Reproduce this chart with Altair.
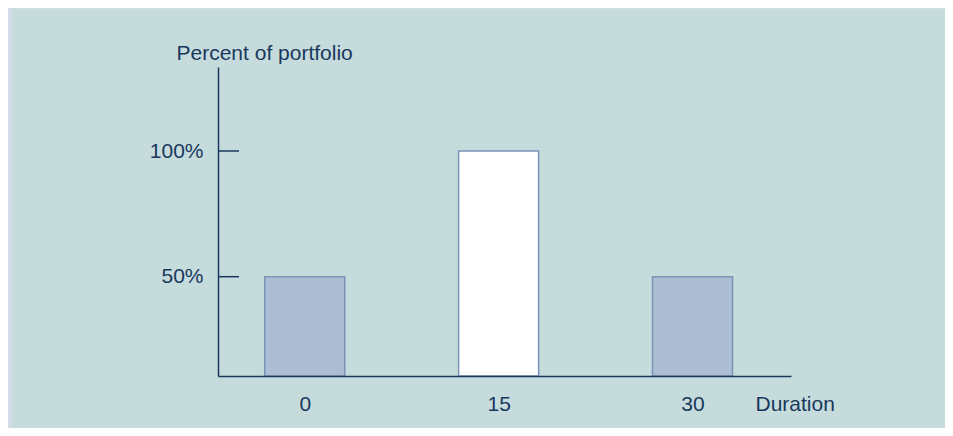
import altair as alt
import pandas as pd

# Data
durations = [0, 15, 30]
percents = [50, 100, 50]
fills = ["#adbdd3", "#ffffff", "#adbdd3"]
y_ticks = [50, 100]
x_ticks = [0, 15, 30]

NAVY = "#19385c"
FONT = "Liberation Sans"
FS = 21

bars_df = pd.DataFrame({"duration": durations, "percent": percents, "fill": fills})
ticks_df = pd.DataFrame({"percent": y_ticks})

W, H = 573, 309

x_scale = alt.Scale(domain=[-6.71, 37.62], nice=False, zero=False, padding=0)
y_scale = alt.Scale(domain=[0, 50, 100, 133.4], range=[309, 209.7, 84, 0], nice=False, zero=False)

panel = alt.Chart(pd.DataFrame({"a": [0]})).mark_rect(color="#c5dbdc").encode(
    x=alt.value(-206), x2=alt.value(W + 160), y=alt.value(-58), y2=alt.value(H + 60)
)

bars = alt.Chart(bars_df).mark_bar(size=80, stroke="#7b94b6", strokeWidth=1.5).encode(
    x=alt.X("duration:Q", scale=x_scale,
            axis=alt.Axis(values=x_ticks, title="Duration", grid=False, ticks=False, tickSize=0,
                          labelPadding=34, labelBaseline="alphabetic", labelFontSize=FS,
                          labelColor=NAVY, labelFont=FONT, domainColor=NAVY, domainWidth=1.5,
                          titleFontSize=FS, titleFontWeight="normal", titleColor=NAVY, titleFont=FONT,
                          titleX=537, titleY=34, titleAlign="left", titleBaseline="alphabetic",
                          titleAnchor="start", zindex=2)),
    y=alt.Y("percent:Q", scale=y_scale,
            axis=alt.Axis(values=y_ticks, labelExpr="datum.value + '%'",
                          title="Percent of portfolio", grid=False, ticks=False, tickSize=0,
                          labelPadding=15, labelFontSize=FS, labelColor=NAVY, labelFont=FONT,
                          labelAlign="right", labelBaseline="middle",
                          domainColor=NAVY, domainWidth=1.5,
                          titleFontSize=FS, titleFontWeight="normal", titleColor=NAVY, titleFont=FONT,
                          titleAngle=0, titleX=-42, titleY=-8, titleAlign="left",
                          titleBaseline="alphabetic", titleAnchor="start", zindex=2)),
    y2=alt.datum(0),
    fill=alt.Fill("fill:N", scale=None),
)

tick_rules = alt.Chart(ticks_df).mark_rule(color=NAVY, strokeWidth=1.5).encode(
    y=alt.Y("percent:Q", scale=y_scale),
    x=alt.value(0), x2=alt.value(21),
)

chart = alt.layer(panel, bars, tick_rules).properties(
    width=W, height=H,
    padding={"left": 210, "top": 59, "right": 154, "bottom": 52},
    autosize=alt.AutoSizeParams(type="none"),
).configure(background="#d2dce6").configure_view(stroke=None)

chart.save("out.html", embed_options={"renderer": "svg", "actions": False})
